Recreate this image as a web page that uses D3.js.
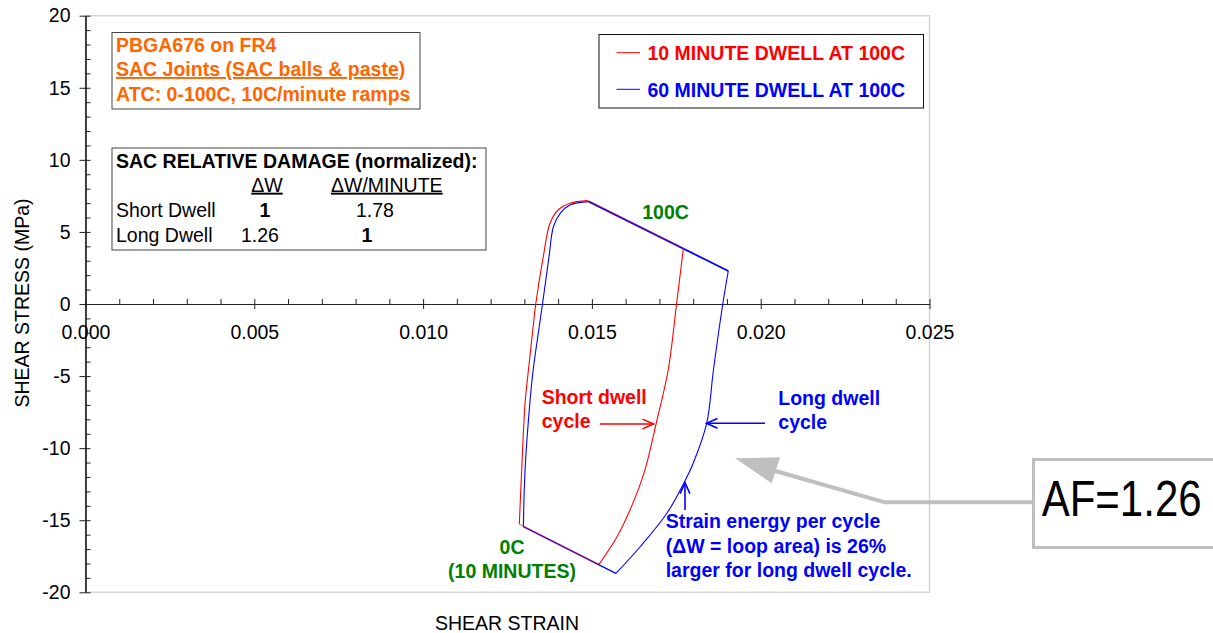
<!DOCTYPE html>
<html>
<head>
<meta charset="utf-8">
<script src="https://cdn.jsdelivr.net/npm/d3@7"></script>
<style>
  html, body { margin: 0; padding: 0; background: #fff; }
  svg { display: block; font-family: "Liberation Sans", Arial, sans-serif; }
</style>
</head>
<body>
<svg id="chart" width="1213" height="633"></svg>
<script>
// Axis ticks
const strainMajorTicks = [0, 0.005, 0.010, 0.015, 0.020, 0.025];
const stressMajorTicks = [-20, -15, -10, -5, 0, 5, 10, 15, 20];

// Hysteresis loops: [shear strain, shear stress (MPa)]
// 10 minute dwell at 100C
const shortHeat = [[0.01285, -15.27], [0.01292, -11.52], [0.01302, -6.89], [0.01312, -4.58],
  [0.01323, -2.22], [0.01334, 0.05], [0.01356, 3.28], [0.01376, 5.60], [0.01400, 6.52],
  [0.01435, 6.99], [0.01488, 7.17]];
const shortHold = [[0.01488, 7.17], [0.01771, 3.87]];
const shortCool = [[0.01771, 3.87], [0.01751, 0.05], [0.01726, -4.58], [0.01690, -8.33],
  [0.01657, -11.52], [0.01619, -13.95], [0.01574, -16.17], [0.01521, -18.06]];
const shortCold = [[0.01521, -18.06], [0.01285, -15.27]];

// 60 minute dwell at 100C
const longHeat = [[0.01297, -15.45], [0.01302, -11.52], [0.01317, -6.66], [0.01326, -4.58],
  [0.01340, -2.22], [0.01354, 0.05], [0.01373, 3.28], [0.01386, 5.36], [0.01406, 6.29],
  [0.01435, 6.87], [0.01491, 7.10]];
const longHold = [[0.01491, 7.10], [0.01904, 2.29]];
const longCool = [[0.01904, 2.29], [0.01888, 0.05], [0.01860, -4.58], [0.01840, -8.28],
  [0.01800, -11.05], [0.01777, -12.21], [0.01722, -14.52], [0.01643, -16.84], [0.01571, -18.69]];
const longCold = [[0.01571, -18.69], [0.01297, -15.45]];

// Relative damage table
const damageRows = ["Short Dwell", "Long Dwell"];
const damageW = ["1", "1.26"];
const damageWPerMinute = ["1.78", "1"];

const svg = d3.select("#chart");
const FONT = 19.5;

const x = d3.scaleLinear().domain([0, 0.025]).range([85.5, 929.5]);
const y = d3.scaleLinear().domain([-20, 20]).range([592.3, 15.7]);

svg.append("rect").attr("width", 1213).attr("height", 633).attr("fill", "#fff");

// Plot area frame
svg.append("rect")
  .attr("x", x(0)).attr("y", y(20))
  .attr("width", x(0.025) - x(0)).attr("height", y(-20) - y(20))
  .attr("fill", "none").attr("stroke", "#d4d4d4").attr("stroke-width", 1.5);

// Y axis
const yAxisMajor = svg.append("g").attr("transform", `translate(${x(0)},0)`)
  .call(d3.axisLeft(y).tickValues(stressMajorTicks).tickSize(6).tickSizeOuter(0).tickPadding(9)
    .tickFormat(d => String(d)));
const yAxisMinor = svg.append("g").attr("transform", `translate(${x(0)},0)`)
  .call(d3.axisRight(y).tickValues(d3.range(-20, 21, 1)).tickSize(5).tickSizeOuter(0).tickFormat(""));

// X axis through zero stress
const xAxisMajor = svg.append("g").attr("transform", `translate(0,${y(0)})`)
  .call(d3.axisBottom(x).tickValues(strainMajorTicks).tickSize(5).tickSizeOuter(0).tickPadding(16)
    .tickFormat(d => d.toFixed(3)));
const xAxisMinor = svg.append("g").attr("transform", `translate(0,${y(0)})`)
  .call(d3.axisTop(x).tickValues(d3.range(0, 26, 1).map(d => d / 1000)).tickSize(5).tickSizeOuter(0).tickFormat(""));

[yAxisMajor, yAxisMinor, xAxisMajor, xAxisMinor].forEach(g => {
  g.selectAll("path.domain").attr("stroke", "#222").attr("stroke-width", 1.2);
  g.selectAll(".tick line").attr("stroke", "#222").attr("stroke-width", 1);
  g.selectAll(".tick text").attr("font-size", FONT).attr("fill", "#000")
    .attr("font-family", '"Liberation Sans", Arial, sans-serif');
});

// Axis titles
svg.append("text").attr("x", 507).attr("y", 630).attr("text-anchor", "middle")
  .attr("font-size", FONT).text("SHEAR STRAIN");
svg.append("text").attr("transform", "translate(29,303) rotate(-90)").attr("text-anchor", "middle")
  .attr("font-size", FONT).text("SHEAR STRESS (MPa)");

// Loops
const line = d3.line().x(d => x(d[0])).y(d => y(d[1]));
const curve = d3.line().x(d => x(d[0])).y(d => y(d[1])).curve(d3.curveCatmullRom.alpha(0.5));

function drawLoop(heat, hold, cool, cold, color, holdWidth, sharedOpacity) {
  const g = svg.append("g").attr("fill", "none").attr("stroke", color);
  g.append("path").attr("d", curve(heat)).attr("stroke-width", 1.1);
  g.append("path").attr("d", line(hold)).attr("stroke-width", holdWidth).attr("stroke-opacity", sharedOpacity);
  g.append("path").attr("d", curve(cool)).attr("stroke-width", 1.1);
  g.append("path").attr("d", line(cold)).attr("stroke-width", 1.4).attr("stroke-opacity", sharedOpacity);
}
drawLoop(longHeat, longHold, longCool, longCold, "#0000ff", 1.8, 1);
drawLoop(shortHeat, shortHold, shortCool, shortCold, "#ff0000", 1.2, 0.45);

// Info box
svg.append("rect").attr("x", 112).attr("y", 32.5).attr("width", 308).attr("height", 76.5)
  .attr("fill", "#fff").attr("stroke", "#444").attr("stroke-width", 1);
const info = svg.append("g").attr("font-size", FONT).attr("font-weight", "bold").attr("fill", "#ff6600");
info.append("text").attr("x", 116).attr("y", 51.7).text("PBGA676 on FR4");
info.append("text").attr("x", 116).attr("y", 76).attr("text-decoration", "underline")
  .text("SAC Joints (SAC balls & paste)");
info.append("text").attr("x", 116).attr("y", 101).text("ATC: 0-100C, 10C/minute ramps");

// Legend
svg.append("rect").attr("x", 599).attr("y", 34.5).attr("width", 324.5).attr("height", 73.5)
  .attr("fill", "#fff").attr("stroke", "#111").attr("stroke-width", 1);
const legendItems = [
  { label: "10 MINUTE DWELL AT 100C", color: "#ff0000", yy: 52.7 },
  { label: "60 MINUTE DWELL AT 100C", color: "#0000ff", yy: 89.3 }
];
legendItems.forEach(it => {
  svg.append("line").attr("x1", 616.5).attr("x2", 640).attr("y1", it.yy).attr("y2", it.yy)
    .attr("stroke", it.color).attr("stroke-width", 1);
  svg.append("text").attr("x", 647.5).attr("y", it.yy + 7.2).attr("font-size", FONT)
    .attr("font-weight", "bold").attr("fill", it.color).text(it.label);
});

// Relative damage table
svg.append("rect").attr("x", 112).attr("y", 148).attr("width", 374).attr("height", 102)
  .attr("fill", "#fff").attr("stroke", "#444").attr("stroke-width", 1);
const tbl = svg.append("g").attr("font-size", FONT).attr("fill", "#000");
tbl.append("text").attr("x", 116).attr("y", 168.3).attr("font-weight", "bold")
  .text("SAC RELATIVE DAMAGE (normalized):");
tbl.append("text").attr("x", 267).attr("y", 191.7).attr("text-anchor", "middle")
  .attr("text-decoration", "underline").text("\u0394W");
tbl.append("text").attr("x", 331).attr("y", 191.7)
  .attr("text-decoration", "underline").text("\u0394W/MINUTE");
const rowY = [217.3, 241.7];
const wX = [265, 260];
const wmX = [375, 367];
damageRows.forEach((r, i) => {
  tbl.append("text").attr("x", 116).attr("y", rowY[i]).text(r);
  tbl.append("text").attr("x", wX[i]).attr("y", rowY[i]).attr("text-anchor", "middle")
    .attr("font-weight", damageW[i] === "1" ? "bold" : "normal").text(damageW[i]);
  tbl.append("text").attr("x", wmX[i]).attr("y", rowY[i]).attr("text-anchor", "middle")
    .attr("font-weight", damageWPerMinute[i] === "1" ? "bold" : "normal").text(damageWPerMinute[i]);
});

// Temperature labels
const green = svg.append("g").attr("font-size", FONT).attr("font-weight", "bold").attr("fill", "#008000")
  .attr("text-anchor", "middle");
green.append("text").attr("x", 665.5).attr("y", 219.3).text("100C");
green.append("text").attr("x", 512).attr("y", 554.3).text("0C");
green.append("text").attr("x", 512).attr("y", 578).text("(10 MINUTES)");

// Annotations with arrows
function arrow(x1, y1, x2, y2, color) {
  const g = svg.append("g").attr("stroke", color).attr("stroke-width", 1.6).attr("fill", "none");
  g.append("line").attr("x1", x1).attr("y1", y1).attr("x2", x2).attr("y2", y2);
  const a = Math.atan2(y2 - y1, x2 - x1), L = 12, w = 0.42;
  const p = [[x2 - L * Math.cos(a - w), y2 - L * Math.sin(a - w)], [x2, y2],
             [x2 - L * Math.cos(a + w), y2 - L * Math.sin(a + w)]];
  g.append("path").attr("d", d3.line()(p));
}

const redNote = svg.append("g").attr("font-size", FONT).attr("font-weight", "bold").attr("fill", "#ff0000");
redNote.append("text").attr("x", 541.7).attr("y", 404.3).text("Short dwell");
redNote.append("text").attr("x", 541.7).attr("y", 428.3).text("cycle");
arrow(600, 424, 653.5, 424, "#ff0000");

const blueNote = svg.append("g").attr("font-size", FONT).attr("font-weight", "bold").attr("fill", "#0000ff");
blueNote.append("text").attr("x", 778.3).attr("y", 405).text("Long dwell");
blueNote.append("text").attr("x", 778.3).attr("y", 428.5).text("cycle");
arrow(765, 423.3, 706.5, 423.3, "#0000ff");

blueNote.append("text").attr("x", 665.7).attr("y", 528.3).text("Strain energy per cycle");
blueNote.append("text").attr("x", 665.7).attr("y", 552.7).text("(\u0394W = loop area) is 26%");
blueNote.append("text").attr("x", 665.7).attr("y", 577.3).text("larger for long dwell cycle.");
arrow(685, 510, 685, 482.7, "#0000ff");

// Acceleration factor callout
svg.append("path").attr("d", "M1034,502.3 L885,502.3 L772,470")
  .attr("fill", "none").attr("stroke", "#bfbfbf").attr("stroke-width", 4).attr("stroke-linejoin", "round");
svg.append("path").attr("d", "M735,458.3 L780,457.3 L771.7,483.3 Z").attr("fill", "#bfbfbf");
svg.append("rect").attr("x", 1033.5).attr("y", 459.5).attr("width", 195).attr("height", 88)
  .attr("fill", "#fff").attr("stroke", "#bfbfbf").attr("stroke-width", 3);
// Condensed lettering: narrow glyphs stretched vertically
svg.append("text").attr("transform", "translate(1041.7,516) scale(1,1.2)")
  .attr("font-size", 42).attr("fill", "#000")
  .text("AF=1.26");
</script>
</body>
</html>
